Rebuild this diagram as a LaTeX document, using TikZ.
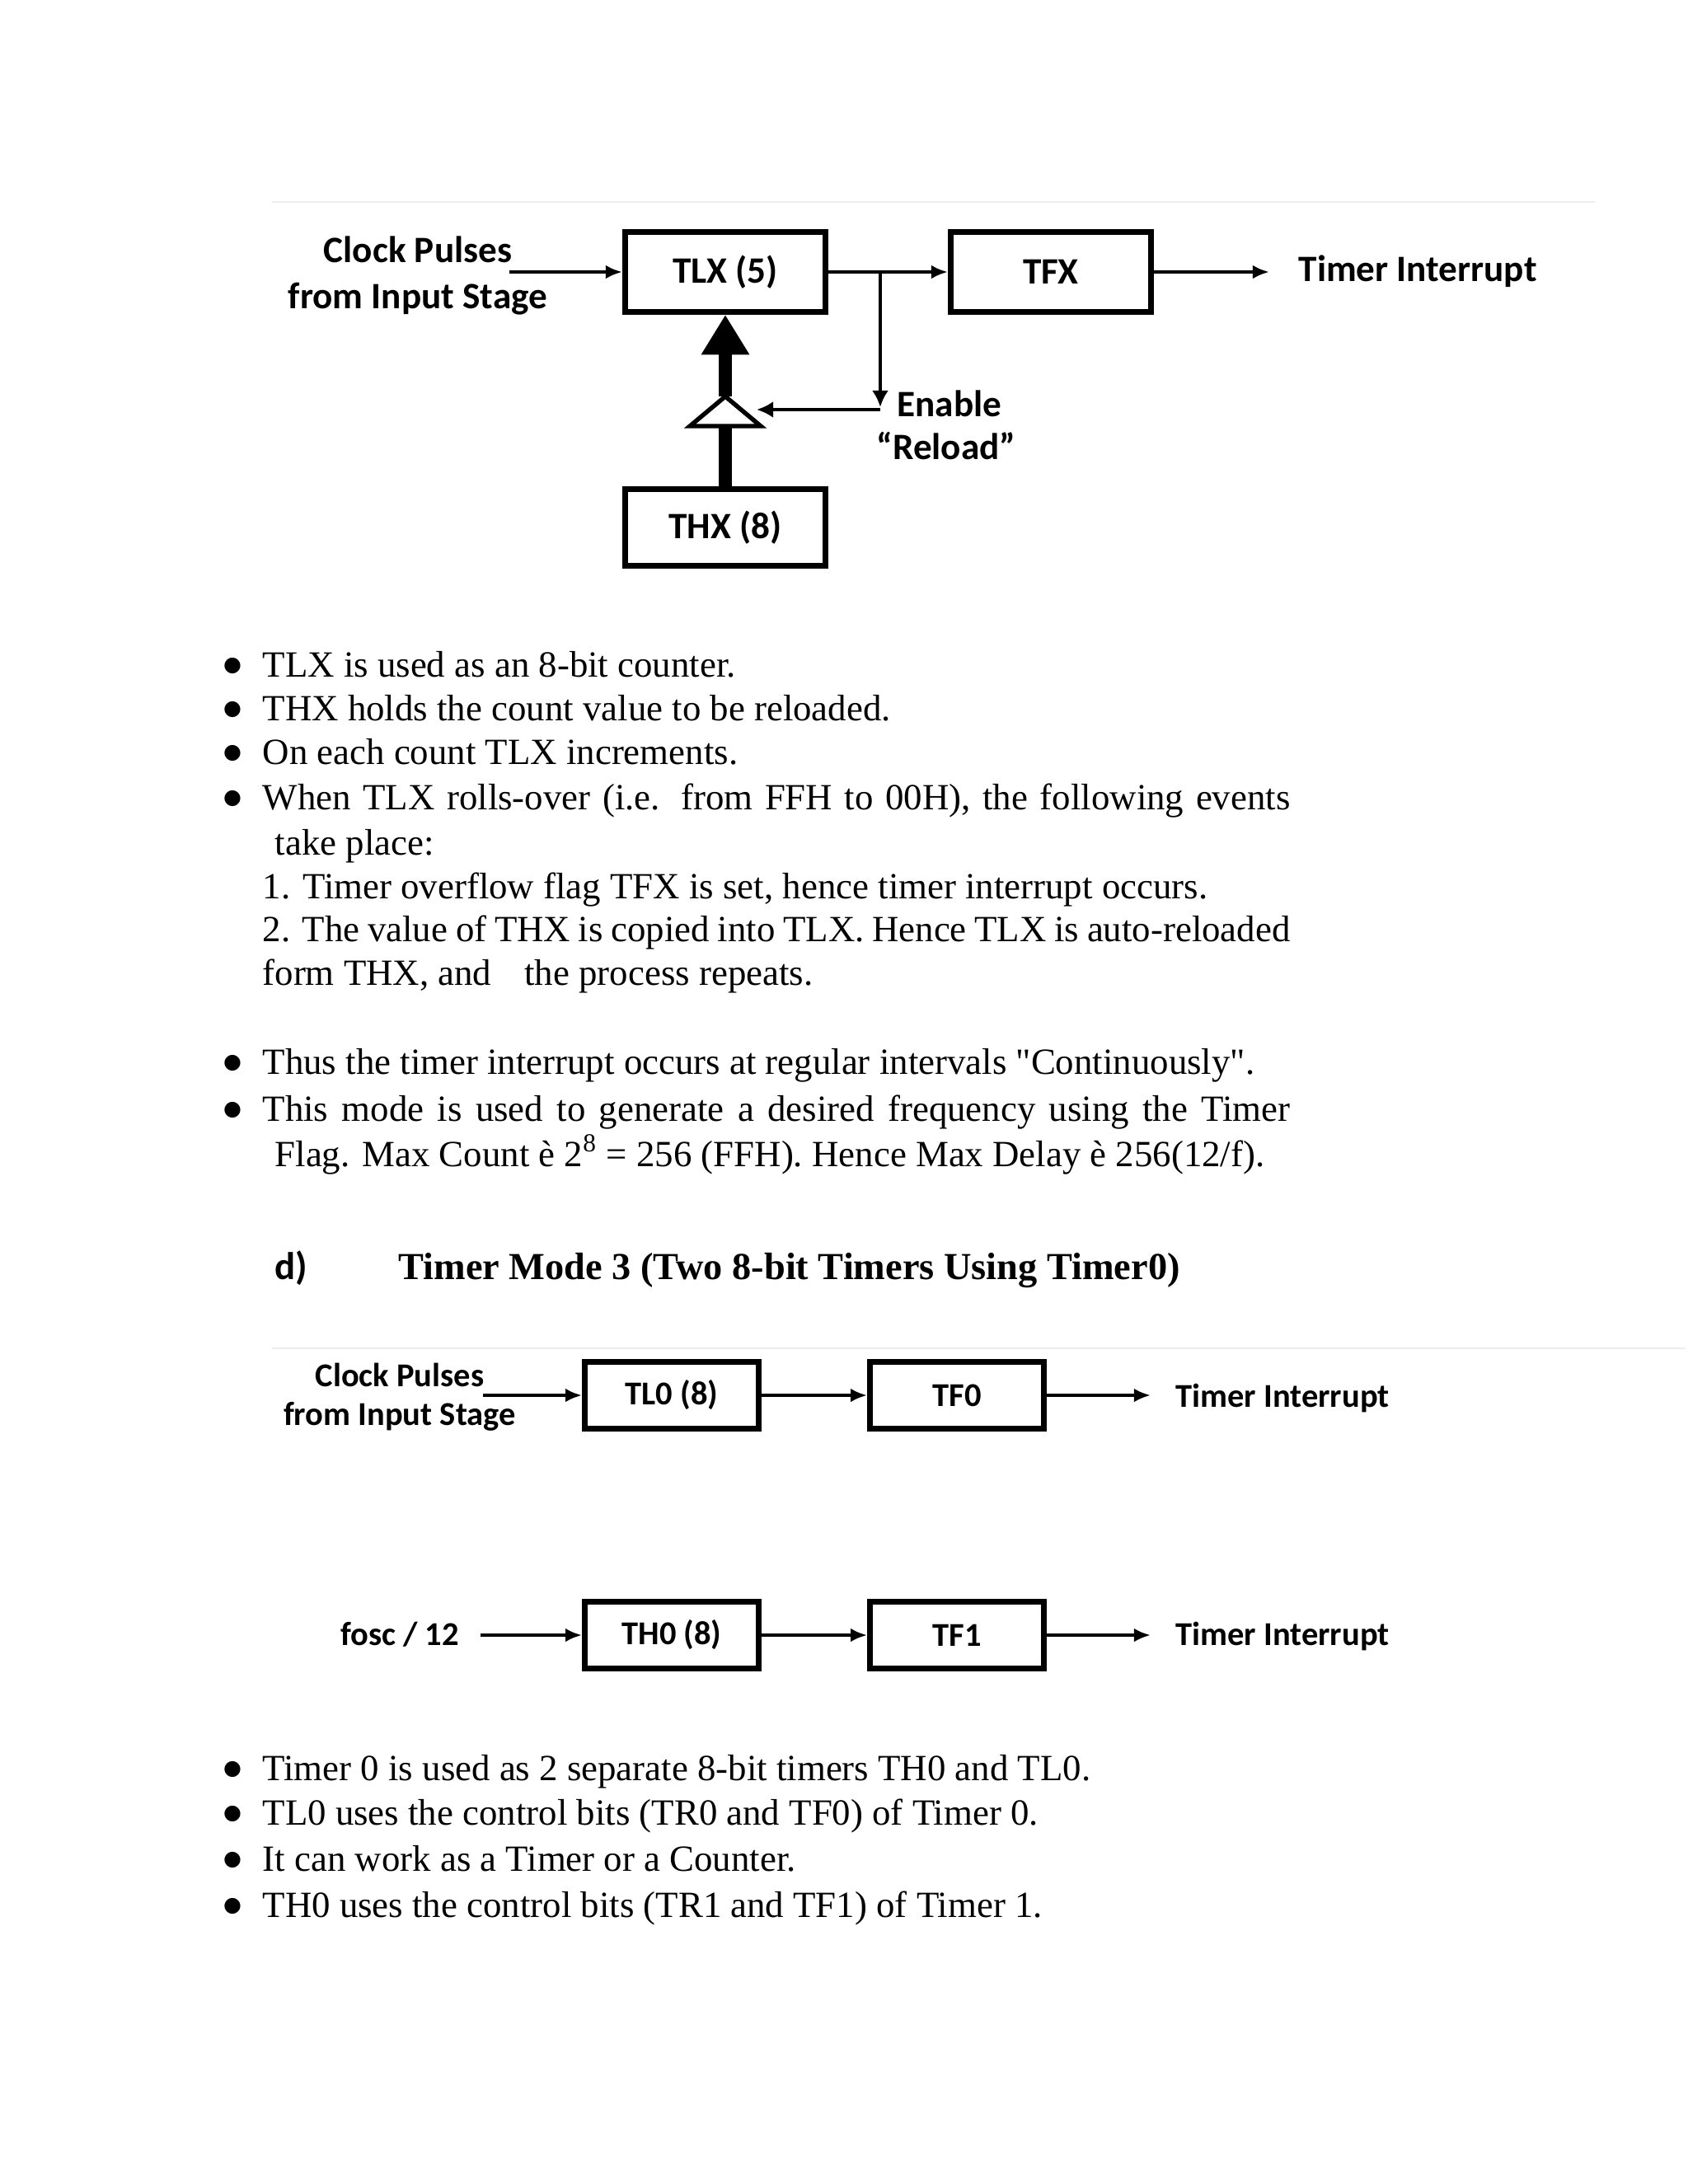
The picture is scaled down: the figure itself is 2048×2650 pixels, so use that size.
\documentclass[tikz,border=0pt]{standalone}
\usepackage{fontspec}
\setmainfont{Liberation Serif}
\newfontfamily\diagfont{Carlito}
\newfontfamily\bulfont{DejaVu Sans}
\usetikzlibrary{arrows.meta}
\begin{document}
\begin{tikzpicture}[x=0.29883pt,y=-0.29883pt,
  bodytxt/.style={anchor=base west, inner sep=0pt, font=\fontsize{13.4}{16}\selectfont},
  bul/.style={anchor=center, inner sep=0pt, font=\bulfont\fontsize{7.5}{8}\selectfont},
  titletxt/.style={anchor=base west, inner sep=0pt, font=\bfseries\fontsize{13.85}{16}\selectfont},
  blockA/.style={draw, line width=2pt, inner sep=0pt, minimum width=72.7pt, minimum height=29pt,
    font=\diagfont\bfseries\fontsize{13.5}{16}\selectfont},
  blockB/.style={draw, line width=2pt, inner sep=0pt, minimum width=63.1pt, minimum height=24.3pt,
    font=\diagfont\bfseries\fontsize{12.1}{14}\selectfont},
  lblA/.style={anchor=base, inner sep=0pt, font=\diagfont\bfseries\fontsize{13.5}{16}\selectfont},
  lblAw/.style={anchor=base west, inner sep=0pt, font=\diagfont\bfseries\fontsize{13.5}{16}\selectfont},
  lblB/.style={anchor=base, inner sep=0pt, font=\diagfont\bfseries\fontsize{12.1}{14}\selectfont},
  lblBw/.style={anchor=base west, inner sep=0pt, font=\diagfont\bfseries\fontsize{12.1}{14}\selectfont},
  conn/.style={line width=1.2pt, -{Latex[length=6pt,width=5pt]}},
  thick shaft/.style={line width=4.5pt},
  faint/.style={draw=black!7, line width=0.6pt}
]
\useasboundingbox (0,0) rectangle (2048,2650);
\fill[white] (0,0) rectangle (2048,2650);

% ---------- top diagram ----------
\draw[faint] (330,245) -- (1935,245);
\node[blockA] (tlx) at (880,330) {TLX (5)};
\node[blockA] (tfx) at (1275,330) {TFX};
\node[blockA, minimum height=27.6pt] (thx) at (880,640) {THX (8)};
\node[lblA] (cp1) at (507,318) {Clock Pulses};
\node[lblA] (cp2) at (507,374) {from Input Stage};
\node[lblAw] (ti1) at (1575,341) {Timer Interrupt};
\node[lblAw] (en) at (1088,505) {Enable};
\node[lblAw] (rl) at (1063,557) {“Reload”};
\coordinate (in1) at (618,330);
\coordinate (br) at (1068,330);
\coordinate (dn) at (1068,494);
\coordinate (cor) at (1068,497);
\coordinate (trim) at (918,497);
\coordinate (triA) at (880,481);
\coordinate (triL) at (837,517);
\coordinate (triR) at (923,517);
\coordinate (triB) at (880,517);
\coordinate (tiend) at (1540,330);

\draw[conn] (in1) -- (tlx.west);
\draw[conn] (tlx.east) -- (tfx.west);
\draw[conn] (tfx.east) -- (tiend);
\draw[line width=1.2pt, -{Latex[length=6pt,width=6pt]}] (br) -- (dn);
\draw[line width=1.2pt, -{Latex[length=6pt,width=6pt]}] (cor) -- (trim);
\draw[line width=1.6pt, line join=miter] (triA) -- (triL) -- (triR) -- cycle;
\draw[thick shaft, -{Triangle[length=14.5pt,width=16.5pt]}] (triA) -- (tlx.south);
\draw[thick shaft] (thx.north) -- (triB);

% ---------- text ----------
\foreach \yy in {821,874,927,982,1303,1360,2160,2214,2270,2326}
  \node[bul] at (282,\yy-13) {●};
\node[bodytxt] (l1) at (318,821) {TLX is used as an 8-bit counter.};
\node[bodytxt] (l2) at (318,874) {THX holds the count value to be reloaded.};
\node[bodytxt] (l3) at (318,927) {On each count TLX increments.};
\node[bodytxt] (l4) at (318,982) {\makebox[372.6pt][s]{When TLX rolls-over (i.e. from FFH to 00H), the following events}};
\node[bodytxt] (l5) at (333,1037) {take place:};
\node[bodytxt] (l6) at (318,1090) {1. Timer overflow flag TFX is set, hence timer interrupt occurs.};
\node[bodytxt] (l7) at (318,1142) {\makebox[372.6pt][s]{2. The value of THX is copied into TLX. Hence TLX is auto-reloaded}};
\node[bodytxt] (l8) at (318,1195) {form THX, and\hspace{12pt}the process repeats.};
\node[bodytxt] (l9) at (318,1303) {Thus the timer interrupt occurs at regular intervals {\addfontfeatures{Ligatures=TeXOff}"Continuously"}.};
\node[bodytxt] (l10) at (318,1360) {\makebox[372.6pt][s]{This mode is used to generate a desired frequency using the Timer}};
\node[bodytxt] (l11) at (333,1415) {Flag. Max Count è 2\textsuperscript{8} = 256 (FFH). Hence Max Delay è 256(12/f).};

\node[anchor=base west, inner sep=0pt, font=\diagfont\bfseries\fontsize{14}{16}\selectfont] (dd) at (333,1552) {d)};
\node[titletxt] (title) at (483,1552) {Timer Mode 3 (Two 8-bit Timers Using Timer0)};

% ---------- bottom diagram ----------
\draw[faint] (330,1636) -- (2045,1636);
\node[blockB] (tl0) at (815,1693) {TL0 (8)};
\node[blockB] (tf0) at (1161,1693) {TF0};
\node[blockB] (th0) at (815,1984) {TH0 (8)};
\node[blockB] (tf1) at (1161,1984) {TF1};
\node[lblB] (cp3) at (485,1682) {Clock Pulses};
\node[lblB] (cp4) at (485,1729) {from Input Stage};
\node[lblB] (fo) at (485,1996) {fosc / 12};
\node[lblBw] (ti2) at (1426,1707) {Timer Interrupt};
\node[lblBw] (ti3) at (1426,1996) {Timer Interrupt};
\coordinate (in2) at (586,1693);
\coordinate (in3) at (583,1984);
\coordinate (out2) at (1396,1693);
\coordinate (out3) at (1396,1984);
\draw[conn] (in2) -- (tl0.west);
\draw[conn] (tl0.east) -- (tf0.west);
\draw[conn] (tf0.east) -- (out2);
\draw[conn] (in3) -- (th0.west);
\draw[conn] (th0.east) -- (tf1.west);
\draw[conn] (tf1.east) -- (out3);

\node[bodytxt] (b1) at (318,2160) {Timer 0 is used as 2 separate 8-bit timers TH0 and TL0.};
\node[bodytxt] (b2) at (318,2214) {TL0 uses the control bits (TR0 and TF0) of Timer 0.};
\node[bodytxt] (b3) at (318,2270) {It can work as a Timer or a Counter.};
\node[bodytxt] (b4) at (318,2326) {TH0 uses the control bits (TR1 and TF1) of Timer 1.};
\end{tikzpicture}
\end{document}
